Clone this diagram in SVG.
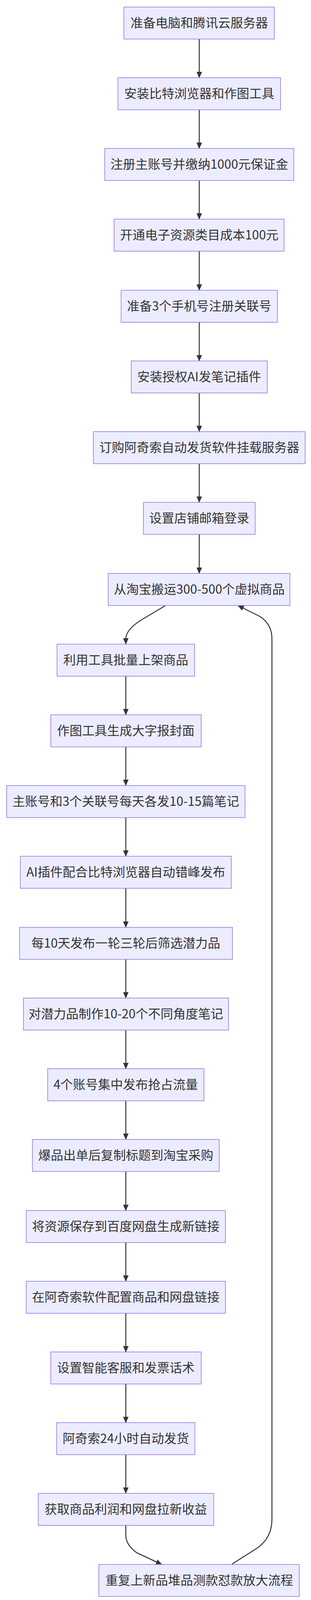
<svg xmlns="http://www.w3.org/2000/svg" width="796" height="4102" viewBox="0 0 796 4102">
<style>
.n rect{fill:#ECECFF;stroke:#9370DB;stroke-width:1.5}
.n text{font-family:"Noto Sans CJK SC","Liberation Sans",sans-serif;font-size:32px;fill:#333;text-anchor:middle}
.e path{fill:none;stroke:#333;stroke-width:2.5}
</style>
<defs>
<marker id="a" markerUnits="userSpaceOnUse" markerWidth="16" markerHeight="14" refX="15" refY="7" orient="auto">
<path d="M0,0 L16,7 L0,14 z" fill="#333"/>
</marker>
</defs>
<g class="e">
<path d="M510,100 V199" marker-end="url(#a)"/>
<path d="M510,281 V380" marker-end="url(#a)"/>
<path d="M510,462 V561" marker-end="url(#a)"/>
<path d="M510,643 V743" marker-end="url(#a)"/>
<path d="M510,825 V924" marker-end="url(#a)"/>
<path d="M510,1006 V1105" marker-end="url(#a)"/>
<path d="M510,1187 V1286" marker-end="url(#a)"/>
<path d="M510,1368 V1468" marker-end="url(#a)"/>
<path d="M424,1550 L365,1585 Q322,1611 322,1636 L322,1649" marker-end="url(#a)"/>
<path d="M322,1731 V1830" marker-end="url(#a)"/>
<path d="M322,1912 V2011" marker-end="url(#a)"/>
<path d="M322,2093 V2192" marker-end="url(#a)"/>
<path d="M322,2274 V2374" marker-end="url(#a)"/>
<path d="M322,2456 V2555" marker-end="url(#a)"/>
<path d="M322,2637 V2736" marker-end="url(#a)"/>
<path d="M322,2818 V2917" marker-end="url(#a)"/>
<path d="M322,2999 V3099" marker-end="url(#a)"/>
<path d="M322,3181 V3280" marker-end="url(#a)"/>
<path d="M322,3362 V3461" marker-end="url(#a)"/>
<path d="M322,3543 V3642" marker-end="url(#a)"/>
<path d="M322,3724 V3823" marker-end="url(#a)"/>
<path d="M322,3905 L322,3930 Q322,3955 350,3975 L414,4005" marker-end="url(#a)"/>
<path d="M594,4004 L660,3962 Q696,3935 696,3890 L696,1635 Q696,1598 665,1578 L609,1550" marker-end="url(#a)"/>
</g>
<g id="n1" class="n"><rect x="317" y="18" width="385" height="82"/><text x="510" y="70">准备电脑和腾讯云服务器</text></g>
<g id="n2" class="n"><rect x="302" y="199" width="416" height="82"/><text x="510" y="251">安装比特浏览器和作图工具</text></g>
<g id="n3" class="n"><rect x="268" y="380" width="484" height="82"/><text x="510" y="432">注册主账号并缴纳1000元保证金</text></g>
<g id="n4" class="n"><rect x="292" y="561" width="435" height="82"/><text x="510" y="613">开通电子资源类目成本100元</text></g>
<g id="n5" class="n"><rect x="310" y="743" width="400" height="82"/><text x="510" y="795">准备3个手机号注册关联号</text></g>
<g id="n6" class="n"><rect x="336" y="924" width="348" height="82"/><text x="510" y="976">安装授权AI发笔记插件</text></g>
<g id="n7" class="n"><rect x="239" y="1105" width="542" height="82"/><text x="510" y="1157">订购阿奇索自动发货软件挂载服务器</text></g>
<g id="n8" class="n"><rect x="367" y="1286" width="286" height="82"/><text x="510" y="1338">设置店铺邮箱登录</text></g>
<g id="n9" class="n"><rect x="277" y="1468" width="465" height="82"/><text x="510" y="1520">从淘宝搬运300-500个虚拟商品</text></g>
<g id="n10" class="n"><rect x="146" y="1649" width="352" height="82"/><text x="322" y="1701">利用工具批量上架商品</text></g>
<g id="n11" class="n"><rect x="130" y="1830" width="385" height="82"/><text x="322" y="1882">作图工具生成大字报封面</text></g>
<g id="n12" class="n"><rect x="17" y="2011" width="610" height="82"/><text x="322" y="2063">主账号和3个关联号每天各发10-15篇笔记</text></g>
<g id="n13" class="n"><rect x="52" y="2192" width="540" height="82"/><text x="322" y="2244">AI插件配合比特浏览器自动错峰发布</text></g>
<g id="n14" class="n"><rect x="50" y="2374" width="545" height="82"/><text x="322" y="2426">每10天发布一轮三轮后筛选潜力品</text></g>
<g id="n15" class="n"><rect x="60" y="2555" width="525" height="82"/><text x="322" y="2607">对潜力品制作10-20个不同角度笔记</text></g>
<g id="n16" class="n"><rect x="122" y="2736" width="400" height="82"/><text x="322" y="2788">4个账号集中发布抢占流量</text></g>
<g id="n17" class="n"><rect x="83" y="2917" width="478" height="82"/><text x="322" y="2969">爆品出单后复制标题到淘宝采购</text></g>
<g id="n18" class="n"><rect x="67" y="3099" width="510" height="82"/><text x="322" y="3151">将资源保存到百度网盘生成新链接</text></g>
<g id="n19" class="n"><rect x="67" y="3280" width="510" height="82"/><text x="322" y="3332">在阿奇索软件配置商品和网盘链接</text></g>
<g id="n20" class="n"><rect x="130" y="3461" width="385" height="82"/><text x="322" y="3513">设置智能客服和发票话术</text></g>
<g id="n21" class="n"><rect x="145" y="3642" width="354" height="82"/><text x="322" y="3694">阿奇索24小时自动发货</text></g>
<g id="n22" class="n"><rect x="98" y="3823" width="449" height="82"/><text x="322" y="3875">获取商品利润和网盘拉新收益</text></g>
<g id="n23" class="n"><rect x="253" y="4005" width="513" height="82"/><text x="510" y="4057">重复上新品堆品测款怼款放大流程</text></g>
</svg>
